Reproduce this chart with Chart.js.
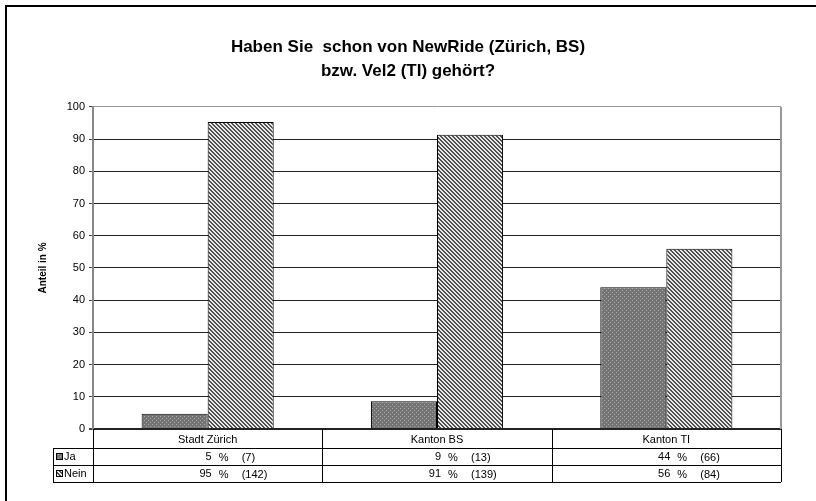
<!DOCTYPE html>
<html>
<head>
<meta charset="utf-8">
<script src="https://cdn.jsdelivr.net/npm/chart.js@4.4.1/dist/chart.umd.min.js"></script>
<style>
  html, body { margin: 0; padding: 0; background: #fff; }
  #newRide { display: block; }
</style>
</head>
<body>
<canvas id="newRide" width="816" height="501"></canvas>
<script>
const categories = ['Stadt Zürich', 'Kanton BS', 'Kanton TI'];
const seriesNames = ['Ja', 'Nein'];
const jaValues = [4.7, 8.6, 44.0];
const neinValues = [95.3, 91.4, 56.0];
const jaPercent = [5, 9, 44];
const jaCounts = [7, 13, 66];
const neinPercent = [95, 91, 56];
const neinCounts = [142, 139, 84];
const titleLines = ['Haben Sie  schon von NewRide (Zürich, BS)', 'bzw. Vel2 (TI) gehört?'];
const yTitle = 'Anteil in %';

const FONT = '"Liberation Sans", Arial, sans-serif';

// small tile patterns like the old excel fills
function makeTile(draw) {
  const c = document.createElement('canvas');
  c.width = 4;
  c.height = 4;
  const g = c.getContext('2d');
  draw(g);
  return g.createPattern(c, 'repeat');
}

const jaFill = makeTile(g => {
  g.fillStyle = '#747474';
  g.fillRect(0, 0, 4, 4);
  g.fillStyle = '#a8a8a8';
  g.fillRect(0, 0, 1, 1);
  g.fillRect(2, 2, 1, 1);
});

const neinFill = makeTile(g => {
  g.fillStyle = '#e8e8e8';
  g.fillRect(0, 0, 4, 4);
  g.fillStyle = '#505050';
  for (let y = 0; y < 4; y++) {
    for (let x = 0; x < 4; x++) {
      if (((x - y + 4) % 4) < 2) g.fillRect(x, y, 1, 1);
    }
  }
});

const tablePlugin = {
  id: 'dataTable',
  afterDraw(chart) {
    const ctx = chart.ctx;
    const area = chart.chartArea;
    const xs = chart.scales.x;
    const colW = (area.right - area.left) / categories.length;
    const r0 = area.bottom, r1 = r0 + 19, r2 = r1 + 17, r3 = r2 + 17;
    const legLeft = 53;

    ctx.save();
    // plot frame, right side
    ctx.strokeStyle = '#999';
    ctx.lineWidth = 2;
    ctx.beginPath();
    ctx.moveTo(area.right, area.top);
    ctx.lineTo(area.right, area.bottom);
    ctx.stroke();

    // table grid
    ctx.strokeStyle = '#000';
    ctx.lineWidth = 1;
    ctx.beginPath();
    [r1, r2, r3].forEach(y => {
      ctx.moveTo(legLeft, y + 0.5);
      ctx.lineTo(area.right, y + 0.5);
    });
    for (let i = 0; i <= categories.length; i++) {
      const x = Math.round(area.left + i * colW) + 0.5;
      ctx.moveTo(x, r0);
      ctx.lineTo(x, r3);
    }
    ctx.moveTo(legLeft + 0.5, r1);
    ctx.lineTo(legLeft + 0.5, r3);
    ctx.stroke();

    // legend keys
    ctx.font = '11px ' + FONT;
    ctx.fillStyle = '#000';
    ctx.textBaseline = 'middle';
    [[jaFill, r1], [neinFill, r2]].forEach(([fill, top], k) => {
      ctx.fillStyle = fill;
      ctx.fillRect(56, top + 5, 7, 7);
      ctx.strokeStyle = '#000';
      ctx.strokeRect(56.5, top + 5.5, 6, 6);
      ctx.fillStyle = '#000';
      ctx.textAlign = 'left';
      ctx.fillText(seriesNames[k], 64, top + 9);
    });

    // cells
    categories.forEach((cat, i) => {
      const c = xs.getPixelForValue(i);
      ctx.textAlign = 'center';
      ctx.fillText(cat, c, (r0 + r1) / 2 + 1);
      const rows = [[jaPercent[i], jaCounts[i], r1], [neinPercent[i], neinCounts[i], r2]];
      rows.forEach(([p, n, top]) => {
        const y = top + 8.5;
        ctx.textAlign = 'right';
        ctx.fillText(String(p), c + 4, y);
        ctx.textAlign = 'left';
        ctx.fillText('%', c + 11, y + 1);
        ctx.fillText('(' + n + ')', c + 34, y + 1.5);
      });
    });

    // outer chart border
    ctx.strokeStyle = '#000';
    ctx.lineWidth = 2;
    ctx.strokeRect(6, 6, 830, 520);
    ctx.restore();
  }
};

const ctx = document.getElementById('newRide').getContext('2d');

const config = {
  type: 'bar',
  data: {
    labels: categories,
    datasets: [
      {
        label: seriesNames[0],
        data: jaValues,
        backgroundColor: jaFill,
        borderColor: '#000',
        borderWidth: 1
      },
      {
        label: seriesNames[1],
        data: neinValues,
        backgroundColor: neinFill,
        borderColor: '#000',
        borderWidth: 1
      }
    ]
  },
  options: {
    responsive: false,
    animation: false,
    categoryPercentage: 0.576,
    barPercentage: 1.0,
    layout: {
      padding: { left: 0, right: 0, top: 0, bottom: 72 }
    },
    plugins: {
      legend: { display: false },
      tooltip: { enabled: false },
      title: {
        display: true,
        text: titleLines,
        color: '#000',
        font: { family: FONT, size: 17, weight: 'bold', lineHeight: 1.41 },
        padding: { top: 35, bottom: 24 }
      }
    },
    scales: {
      x: {
        display: false
      },
      y: {
        min: 0,
        max: 100,
        afterFit(scale) { scale.width = 93; },
        ticks: {
          stepSize: 10,
          color: '#000',
          padding: 4,
          font: { family: FONT, size: 11 }
        },
        grid: {
          color: c => (c.tick && c.tick.value === 100 ? '#999' : '#222'),
          lineWidth: c => (c.tick && c.tick.value === 0 ? 2 : 1),
          tickColor: '#444',
          tickLength: 4
        },
        border: { color: '#888', width: 2 },
        title: {
          display: true,
          text: yTitle,
          color: '#000',
          font: { family: FONT, size: 10, weight: 'bold' },
          padding: { top: 37, bottom: 0 }
        }
      },
      // empty right-hand strip so the title centres on the whole picture
      yRight: {
        position: 'right',
        min: 0,
        max: 100,
        afterFit(scale) { scale.width = 35; },
        ticks: { display: false },
        grid: { display: false, drawTicks: false },
        border: { display: false }
      }
    }
  },
  plugins: [tablePlugin]
};

var newRide = new Chart(ctx, config);
</script>
</body>
</html>
